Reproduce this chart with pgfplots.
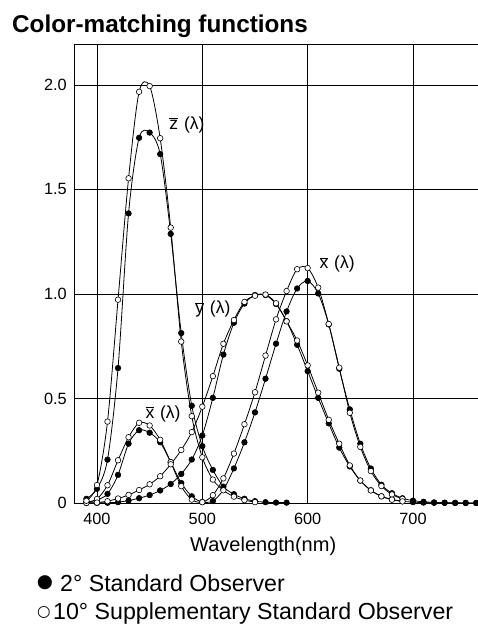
\documentclass[border=0pt]{standalone}
\usepackage{fontspec}
\setmainfont{Liberation Sans}
\newfontfamily\dejavu{DejaVu Sans}
\usepackage{pgfplots}
\pgfplotsset{compat=1.18}
\usepackage{pgfplotstable}

% CIE 1931 2 degree observer
\pgfplotstableread{
wl x y
390 0.004243 0.000120
400 0.014310 0.000396
410 0.043510 0.001210
420 0.134380 0.004000
430 0.283900 0.011600
440 0.348280 0.023000
450 0.336200 0.038000
460 0.290800 0.060000
470 0.195360 0.090980
480 0.095640 0.139020
490 0.032010 0.208020
500 0.004900 0.323000
510 0.009300 0.503000
520 0.063270 0.710000
530 0.165500 0.862000
540 0.290400 0.954000
550 0.433450 0.994950
560 0.594500 0.995000
570 0.762100 0.952000
580 0.916300 0.870000
590 1.026300 0.757000
600 1.062200 0.631000
610 1.002600 0.503000
620 0.854450 0.381000
630 0.642400 0.265000
640 0.447900 0.175000
650 0.283500 0.107000
660 0.164900 0.061000
670 0.087400 0.032000
680 0.046770 0.017000
690 0.022700 0.008210
700 0.011359 0.004102
710 0.005790 0.002091
720 0.002899 0.001047
730 0.001440 0.000520
740 0.000690 0.000249
750 0.000332 0.000120
760 0.000166 0.000060
}\twoxy

\pgfplotstableread{
wl z
390 0.020050
400 0.067850
410 0.207400
420 0.645600
430 1.385600
440 1.747060
450 1.772110
460 1.669200
470 1.287640
480 0.812950
490 0.465180
500 0.272000
510 0.158200
520 0.078250
530 0.042160
540 0.020300
550 0.008750
560 0.003900
570 0.002100
580 0.001650
}\twoz

% CIE 1964 10 degree observer
\pgfplotstableread{
wl x y
390 0.002362 0.000253
400 0.019110 0.002004
410 0.084736 0.008756
420 0.204492 0.021391
430 0.314679 0.038676
440 0.383734 0.062077
450 0.370702 0.089456
460 0.302273 0.128201
470 0.195618 0.185190
480 0.080507 0.253589
490 0.016172 0.339133
500 0.003816 0.460777
510 0.037465 0.606741
520 0.117749 0.761757
530 0.236491 0.875211
540 0.376772 0.961988
550 0.529826 0.991761
560 0.705224 0.997340
570 0.878655 0.955552
580 1.014160 0.868934
590 1.118520 0.777405
600 1.123990 0.658341
610 1.030480 0.527963
620 0.856297 0.398057
630 0.647467 0.283493
640 0.431567 0.179828
650 0.268329 0.107633
660 0.152568 0.060281
670 0.081261 0.031800
680 0.040851 0.015905
690 0.019941 0.007749
}\tenxy

\pgfplotstableread{
wl z
390 0.010482
400 0.086011
410 0.389366
420 0.972542
430 1.553480
440 1.967280
450 1.994800
460 1.745370
470 1.317560
480 0.772125
490 0.415254
500 0.218502
510 0.112044
520 0.060709
530 0.030451
540 0.013676
550 0.003988
}\tenz

\begin{document}
\begin{tikzpicture}
\useasboundingbox (0,0) rectangle (478pt,624pt);
\begin{axis}[
  at={(74pt,121pt)}, anchor=south west,
  scale only axis, width=404pt, height=459pt,
  xmin=378.2, xmax=761.7, ymin=0, ymax=2.196,
  axis x line=box, axis y line*=left,
  axis line style={-, black, line width=0.9pt},
  xtick={400,500,600,700},
  ytick={0,0.5,1,1.5,2},
  yticklabels={0,0.5,1.0,1.5,2.0},
  major tick length=0pt,
  grid=major,
  major grid style={black, line width=0.9pt},
  /pgf/number format/assume math mode=true,
  ticklabel style={font=\fontsize{16.3}{19}\selectfont},
  yticklabel style={inner sep=0pt, xshift=-7pt},
  xticklabel style={inner sep=0pt, yshift=-10pt},
  clip=false,
  every axis plot/.append style={black, line width=0.8pt, smooth, tension=0.5},
  filled/.style={mark=*, mark size=2.8pt, mark options={fill=black, line width=0.6pt}},
  open/.style={mark=*, mark size=2.8pt, mark options={fill=white, line width=0.6pt}},
]
\addplot[filled] table[x=wl, y=x] {\twoxy};
\addplot[filled] table[x=wl, y=y] {\twoxy};
\addplot[filled] table[x=wl, y=z] {\twoz};
\addplot[open] table[x=wl, y=x] {\tenxy};
\addplot[open] table[x=wl, y=y] {\tenxy};
\addplot[open] table[x=wl, y=z] {\tenz};

\node[font=\fontsize{17.5}{20}\selectfont, inner sep=0pt] at (axis cs:485.4,1.81) {$\overline{\mbox{z}}$\,\,(λ)};
\node[font=\fontsize{17.5}{20}\selectfont, inner sep=0pt] at (axis cs:510,0.928) {$\overline{\mbox{y}}$\,\,(λ)};
\node[font=\fontsize{17.5}{20}\selectfont, inner sep=0pt] at (axis cs:628,1.144) {$\overline{\mbox{x}}$\,\,(λ)};
\node[font=\fontsize{17.5}{20}\selectfont, inner sep=0pt] at (axis cs:462.7,0.428) {$\overline{\mbox{x}}$\,\,(λ)};
\end{axis}

\node[anchor=base west, inner sep=0pt, font=\fontsize{24.3}{28}\selectfont\bfseries] at (12pt,591pt) {Color-matching functions};
\node[anchor=base west, inner sep=0pt, font=\fontsize{20}{24}\selectfont] at (190pt,72pt) {Wavelength(nm)};
\node[inner sep=0pt, font=\fontsize{18.5}{22}\selectfont\dejavu] at (45pt,41pt) {●};
\node[anchor=base west, inner sep=0pt, font=\fontsize{23.2}{27}\selectfont] at (60pt,32pt) {2° Standard Observer};
\node[inner sep=0pt, font=\fontsize{15.5}{19}\selectfont\dejavu] at (44pt,12pt) {○};
\node[anchor=base west, inner sep=0pt, font=\fontsize{23.2}{27}\selectfont] at (53pt,5pt) {10° Supplementary Standard Observer};
\end{tikzpicture}
\end{document}
